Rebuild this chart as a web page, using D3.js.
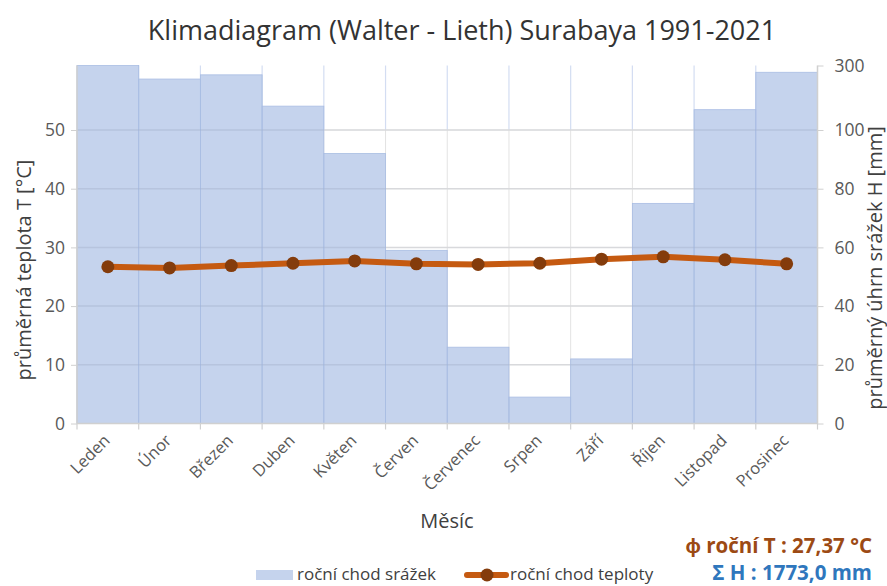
<!DOCTYPE html>
<html><head><meta charset="utf-8">
<script src="https://cdn.jsdelivr.net/npm/d3@7"></script>
<style>
body{margin:0;background:#fff;}
text{font-family:"Open Sans",sans-serif;}
</style></head>
<body><svg id="c" width="887" height="586"></svg>
<script>
const months = ["Leden","Únor","Březen","Duben","Květen","Červen","Červenec","Srpen","Září","Říjen","Listopad","Prosinec"];
const precipitation = [345, 258, 271, 174, 92, 59, 26, 9, 22, 75, 163, 279];
const temperature = [26.7, 26.5, 26.9, 27.3, 27.7, 27.2, 27.1, 27.3, 28.0, 28.4, 27.9, 27.2];
const tempTicks = [0,10,20,30,40,50];
const precTicks = [0,20,40,60,80,100,300];
const title = "Klimadiagram (Walter - Lieth) Surabaya 1991-2021";
const meanT = "ϕ roční T : 27,37 °C";
const sumH = "Σ H : 1773,0 mm";

const svg = d3.select("#c");
const L = 77, R = 817.5, T = 65.5, B = 423.5;
const x = d3.scaleBand().domain(months).range([L, R]).padding(0);
const yT = d3.scaleLinear().domain([0, 50]).range([B, 130]);
const yP = d3.scaleLinear().domain([0, 100, 300]).range([B, 130, T]).clamp(true);

// vertical grid lines
const bounds = months.map(m => x(m)).concat([R]);
svg.append("g").selectAll("line").data(bounds).join("line")
  .attr("x1", d => d).attr("x2", d => d).attr("y1", yP(100)).attr("y2", B)
  .attr("stroke", "#e3e3e3").attr("stroke-width", 1);
svg.append("g").selectAll("line").data(bounds.slice(1, -1)).join("line")
  .attr("x1", d => d).attr("x2", d => d).attr("y1", T).attr("y2", yP(100))
  .attr("stroke", "#d3ddf2").attr("stroke-width", 1.2);
// horizontal grid
svg.append("g").selectAll("line").data(tempTicks.slice(1)).join("line")
  .attr("x1", L).attr("x2", R).attr("y1", d => yT(d)).attr("y2", d => yT(d))
  .attr("stroke", "#e3e3e3").attr("stroke-width", 1.5);

// bars
svg.append("g").selectAll("rect").data(precipitation).join("rect")
  .attr("x", (d, i) => x(months[i]))
  .attr("width", x.bandwidth())
  .attr("y", d => yP(d))
  .attr("height", d => B - yP(d))
  .attr("fill", "#aec2e6").attr("fill-opacity", 0.72)
  .attr("stroke", "#a9bde3").attr("stroke-width", 0.8);

// gridlines faintly over bars
svg.append("g").selectAll("line").data(tempTicks.slice(1)).join("line")
  .attr("x1", L).attr("x2", R).attr("y1", d => yT(d)).attr("y2", d => yT(d))
  .attr("stroke", "#8a96b0").attr("stroke-opacity", 0.12).attr("stroke-width", 1.5);

// axes
const gx = svg.append("g").attr("transform", `translate(0,${B})`);
gx.append("line").attr("x1", L).attr("x2", R).attr("y1", 0).attr("y2", 0).attr("stroke", "#d0d0d0").attr("stroke-width", 1.5);
gx.selectAll("line.t").data(bounds).join("line").attr("class", "t")
  .attr("x1", d => d).attr("x2", d => d).attr("y1", 0).attr("y2", 6).attr("stroke", "#d0d0d0").attr("stroke-width", 1.2);
gx.selectAll("text").data(months).join("text")
  .attr("transform", d => `translate(${x(d) + x.bandwidth() / 2 + 3},${18}) rotate(-45)`)
  .attr("text-anchor", "end").attr("font-size", 16.5).attr("fill", "#595959").text(d => d);

const gl = svg.append("g").attr("transform", `translate(${L},0)`);
gl.call(d3.axisLeft(yT).tickValues(tempTicks).tickSize(6).tickPadding(6));
gl.select(".domain").remove();
gl.append("line").attr("x1", 0).attr("x2", 0).attr("y1", T).attr("y2", B).attr("stroke", "#d0d0d0").attr("stroke-width", 1.5);
gl.selectAll(".tick line").attr("stroke", "#d0d0d0");
gl.selectAll(".tick text").attr("font-size", 17.5).attr("fill", "#595959").attr("font-family", "Open Sans");

const gr = svg.append("g").attr("transform", `translate(${R},0)`);
gr.call(d3.axisRight(yP).tickValues(precTicks).tickSize(6).tickPadding(11));
gr.select(".domain").remove();
gr.append("line").attr("x1", 0).attr("x2", 0).attr("y1", T).attr("y2", B).attr("stroke", "#d0d0d0").attr("stroke-width", 1.5);
gr.selectAll(".tick line").attr("stroke", "#d0d0d0");
gr.selectAll(".tick text").attr("font-size", 17.5).attr("fill", "#595959").attr("font-family", "Open Sans");

// temperature line
const line = d3.line().x((d, i) => x(months[i]) + x.bandwidth() / 2).y(d => yT(d)).curve(d3.curveLinear);
svg.append("path").datum(temperature).attr("d", line)
  .attr("fill", "none").attr("stroke", "#c55a11").attr("stroke-width", 6).attr("stroke-linejoin", "round");
svg.append("g").selectAll("circle").data(temperature).join("circle")
  .attr("cx", (d, i) => x(months[i]) + x.bandwidth() / 2).attr("cy", d => yT(d)).attr("r", 6.5)
  .attr("fill", "#843c0c");

// titles
svg.append("text").attr("x", 462).attr("y", 40).attr("text-anchor", "middle")
  .attr("font-size", 27).attr("fill", "#333").text(title);
svg.append("text").attr("x", 447).attr("y", 528).attr("text-anchor", "middle")
  .attr("font-size", 20).attr("fill", "#404040").text("Měsíc");
svg.append("text").attr("transform", "translate(31,270) rotate(-90)").attr("text-anchor", "middle")
  .attr("font-size", 20).attr("fill", "#404040").text("průměrná teplota T [°C]");
svg.append("text").attr("transform", "translate(882,268) rotate(-90)").attr("text-anchor", "middle")
  .attr("font-size", 20).attr("fill", "#404040").text("průměrný úhrn srážek H [mm]");

// legend
svg.append("rect").attr("x", 256).attr("y", 570).attr("width", 37).attr("height", 10).attr("fill", "#aec2e6").attr("fill-opacity", 0.72);
svg.append("text").attr("x", 297).attr("y", 580).attr("font-size", 17).attr("fill", "#404040").text("roční chod srážek");
svg.append("line").attr("x1", 467).attr("x2", 506).attr("y1", 575).attr("y2", 575).attr("stroke", "#c55a11").attr("stroke-width", 6).attr("stroke-linecap", "round");
svg.append("circle").attr("cx", 487).attr("cy", 575).attr("r", 6.5).attr("fill", "#843c0c");
svg.append("text").attr("x", 510).attr("y", 580).attr("font-size", 17).attr("fill", "#404040").text("roční chod teploty");

// annotations
svg.append("text").attr("x", 872).attr("y", 553).attr("text-anchor", "end")
  .attr("font-size", 20.5).attr("font-weight", "bold").attr("fill", "#9c4a14").text(meanT);
svg.append("text").attr("x", 872).attr("y", 580).attr("text-anchor", "end")
  .attr("font-size", 20.5).attr("font-weight", "bold").attr("fill", "#2f77bd").text(sumH);
</script></body></html>
